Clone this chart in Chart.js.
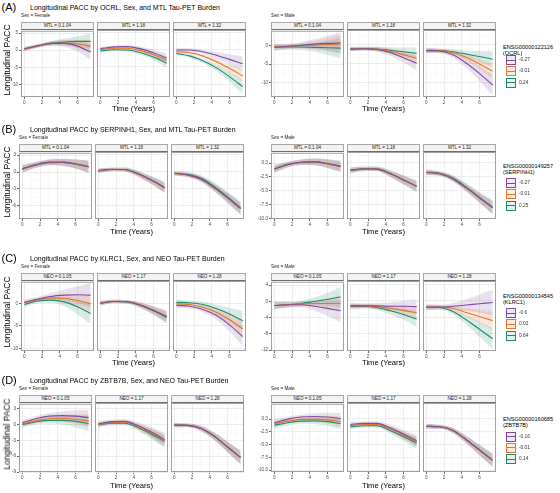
<!DOCTYPE html>
<html>
<head>
<meta charset="utf-8">
<title>Longitudinal PACC</title>
<script src="https://cdn.jsdelivr.net/npm/chart.js@4.4.1/dist/chart.umd.min.js"></script>
<style>
  html, body { margin: 0; padding: 0; background: #fff; }
  #figure { position: relative; width: 560px; height: 493px; overflow: hidden; font-family: "Liberation Sans", Arial, sans-serif; color: #000; }
  #figure canvas { position: absolute; }
  .txt { position: absolute; white-space: nowrap; line-height: 1; }
  .strip { position: absolute; box-sizing: border-box; height: 8px; background: #f3f3f3; border: 1px solid #a8a8a8; border-bottom: 1.5px solid #6e6e6e; font-size: 4.6px; line-height: 6px; text-align: center; color: #222; }
  .key { position: absolute; box-sizing: border-box; width: 10px; height: 10px; border: 1px solid; }
  .key i { position: absolute; left: 0; right: 0; top: 3.5px; height: 1px; }
</style>
</head>
<body>
<div id="figure"></div>
<script>
// time points (years)
const years = [0, 1.5, 3, 4.5, 6, 7.5];

const rowLetters = ["(A)", "(B)", "(C)", "(D)"];
const rowTitles = [
  "Longitudinal PACC by OCRL, Sex, and MTL Tau-PET Burden",
  "Longitudinal PACC by SERPINH1, Sex, and MTL Tau-PET Burden",
  "Longitudinal PACC by KLRC1, Sex, and NEO Tau-PET Burden",
  "Longitudinal PACC by ZBTB7B, Sex, and NEO Tau-PET Burden"
];
const facetLabels = [
  ["MTL = 0.1.04", "MTL = 1.18", "MTL = 1.32"],
  ["MTL = 0.1.04", "MTL = 1.18", "MTL = 1.32"],
  ["NEO = 0.1.05", "NEO = 1.17", "NEO = 1.28"],
  ["NEO = 0.1.05", "NEO = 1.17", "NEO = 1.28"]
];
const sexLabels = ["Sex = Female", "Sex = Male"];
const geneIds = ["ENSG00000122126", "ENSG00000149257", "ENSG00000134545", "ENSG00000160685"];
const geneSymbols = ["(OCRL)", "(SERPINH1)", "(KLRC1)", "(ZBTB7B)"];
const levelLabels = [
  ["-0.27", "-0.01", "0.24"],
  ["-0.27", "-0.01", "0.25"],
  ["-0.6", "0.02", "0.64"],
  ["-0.16", "-0.01", "0.14"]
];
const lineColors = ["#7e4c9e", "#e6752a", "#1f8a6c"];

// axis ticks and ranges
const femaleTicks = [[-10, -5, 0, 5], [-6, -3, 0, 3], [-10, -5, 0], [-9, -6, -3, 0, 3]];
const maleTicks = [[-10, -5, 0], [-10, -7.5, -5, -2.5, 0], [-12, -8, -4, 0, 4], [-10, -7.5, -5, -2.5, 0]];
const femaleRange = [[-13.7, 5.7], [-8.3, 3.4], [-10.6, 4.9], [-9.0, 3.95]];
const maleRange = [[-13.9, 4.0], [-10.1, 1.85], [-12.2, 4.85], [-10.35, 3.0]];
const maleDecimals = [0, 1, 0, 1];
const xTicks = [0, 1, 2, 3, 4, 5, 6, 7];

// predicted PACC: [facet][level low/mid/high][time]
const ocrlFemale = [
  [[0.4, 1.3, 2.0, 2.0, 1.2, -0.5], [0.3, 1.2, 1.9, 2.1, 1.8, 1.2], [0.3, 1.2, 2.0, 2.4, 2.6, 2.6]],
  [[0.3, 0.8, 0.9, 0.3, -0.9, -2.4], [0.0, 0.4, 0.4, -0.2, -1.4, -3.0], [-0.4, 0.0, -0.1, -0.8, -2.1, -3.9]],
  [[-0.1, -0.1, -0.6, -1.6, -2.8, -4.1], [-0.6, -0.9, -1.8, -3.4, -5.4, -7.6], [-1.1, -1.8, -3.2, -5.2, -7.8, -10.7]]
];
const ocrlFemaleBand = [
  [[0.6, 0.5, 0.6, 1.0, 1.6, 2.4], [0.5, 0.4, 0.5, 0.8, 1.3, 1.9], [0.6, 0.5, 0.6, 1.0, 1.5, 2.2]],
  [[0.5, 0.4, 0.4, 0.6, 0.9, 1.4], [0.4, 0.3, 0.4, 0.5, 0.8, 1.1], [0.5, 0.4, 0.4, 0.6, 0.9, 1.3]],
  [[0.6, 0.5, 0.6, 0.9, 1.4, 2.2], [0.5, 0.4, 0.5, 0.8, 1.2, 1.6], [0.6, 0.5, 0.6, 0.9, 1.4, 2.0]]
];
const ocrlMale = [
  [[-0.5, -0.2, 0.1, 0.4, 0.6, 0.7], [-0.4, -0.2, 0.0, 0.1, 0.3, 0.4], [-0.4, -0.4, -0.4, -0.5, -0.6, -0.7]],
  [[-1.1, -1.0, -1.2, -2.0, -3.4, -4.9], [-1.1, -1.0, -1.1, -1.7, -2.6, -3.6], [-1.1, -1.0, -1.1, -1.4, -1.8, -2.2]],
  [[-1.4, -1.6, -2.6, -4.8, -7.6, -10.7], [-1.5, -1.5, -2.0, -3.3, -5.1, -7.0], [-1.6, -1.5, -1.8, -2.4, -3.1, -3.8]]
];
const ocrlMaleBand = [
  [[0.9, 0.7, 0.8, 1.3, 2.0, 2.9], [0.8, 0.6, 0.7, 1.1, 1.7, 2.4], [0.9, 0.7, 0.8, 1.2, 1.9, 2.7]],
  [[0.6, 0.5, 0.6, 0.9, 1.3, 1.9], [0.5, 0.4, 0.5, 0.7, 1.0, 1.4], [0.6, 0.5, 0.6, 0.8, 1.1, 1.5]],
  [[0.7, 0.6, 0.8, 1.3, 2.0, 2.8], [0.6, 0.5, 0.6, 0.9, 1.4, 1.9], [0.6, 0.5, 0.7, 1.0, 1.5, 2.1]]
];

const serpinFemale = [
  [[0.6, 1.3, 1.75, 1.75, 1.45, 0.95], [0.55, 1.25, 1.7, 1.7, 1.4, 0.9], [0.5, 1.2, 1.65, 1.7, 1.4, 0.9]],
  [[0.15, 0.4, 0.35, -0.4, -1.5, -2.8], [0.1, 0.35, 0.3, -0.5, -1.6, -2.9], [0.1, 0.35, 0.35, -0.4, -1.5, -2.8]],
  [[-0.3, -0.6, -1.3, -2.8, -4.6, -6.5], [-0.35, -0.65, -1.4, -2.85, -4.6, -6.5], [-0.3, -0.5, -1.15, -2.6, -4.4, -6.4]]
];
const serpinFemaleBand = [
  [[0.7, 0.5, 0.5, 0.6, 0.8, 1.1], [0.6, 0.5, 0.5, 0.6, 0.8, 1.0], [0.7, 0.5, 0.5, 0.6, 0.8, 1.1]],
  [[0.4, 0.3, 0.35, 0.5, 0.7, 0.9], [0.35, 0.3, 0.3, 0.45, 0.6, 0.8], [0.4, 0.3, 0.35, 0.5, 0.7, 0.9]],
  [[0.4, 0.4, 0.5, 0.7, 0.9, 1.1], [0.35, 0.35, 0.45, 0.6, 0.8, 1.0], [0.4, 0.4, 0.5, 0.7, 0.9, 1.1]]
];
const serpinMale = [
  [[-1.1, -0.3, 0.15, 0.2, -0.1, -0.6], [-1.1, -0.3, 0.1, 0.2, -0.15, -0.65], [-1.05, -0.25, 0.15, 0.25, -0.1, -0.6]],
  [[-1.4, -1.15, -1.2, -2.05, -3.15, -4.3], [-1.4, -1.15, -1.2, -2.0, -3.1, -4.3], [-1.45, -1.2, -1.15, -1.95, -3.1, -4.25]],
  [[-1.8, -2.05, -2.95, -4.55, -6.35, -8.1], [-1.8, -2.0, -2.9, -4.5, -6.3, -8.1], [-1.75, -1.95, -2.8, -4.4, -6.2, -8.0]]
];
const serpinMaleBand = [
  [[0.7, 0.5, 0.5, 0.6, 0.8, 1.0], [0.6, 0.45, 0.45, 0.55, 0.7, 0.9], [0.7, 0.5, 0.5, 0.6, 0.8, 1.0]],
  [[0.5, 0.4, 0.4, 0.6, 0.8, 1.0], [0.45, 0.35, 0.35, 0.5, 0.7, 0.9], [0.5, 0.4, 0.4, 0.6, 0.8, 1.0]],
  [[0.5, 0.4, 0.5, 0.7, 0.9, 1.2], [0.45, 0.35, 0.45, 0.6, 0.8, 1.1], [0.5, 0.4, 0.5, 0.7, 0.9, 1.2]]
];

const klrcFemale = [
  [[0.3, 1.0, 1.6, 1.9, 2.0, 1.9], [0.2, 0.9, 1.3, 1.2, 0.7, 0.0], [-0.2, 0.6, 0.8, 0.4, -0.7, -2.2]],
  [[0.0, 0.35, 0.3, -0.4, -1.6, -3.0], [0.05, 0.4, 0.35, -0.35, -1.5, -2.9], [0.0, 0.35, 0.25, -0.45, -1.7, -3.2]],
  [[-0.5, -0.7, -1.4, -2.7, -4.8, -7.4], [-0.15, -0.3, -0.9, -2.0, -3.7, -5.7], [0.2, 0.1, -0.3, -1.2, -2.4, -3.9]]
];
const klrcFemaleBand = [
  [[0.6, 0.5, 0.7, 1.2, 1.9, 2.7], [0.5, 0.4, 0.5, 0.8, 1.2, 1.8], [0.6, 0.5, 0.6, 1.0, 1.6, 2.4]],
  [[0.5, 0.4, 0.4, 0.6, 0.9, 1.3], [0.45, 0.35, 0.35, 0.55, 0.8, 1.2], [0.5, 0.4, 0.4, 0.6, 0.9, 1.3]],
  [[0.6, 0.5, 0.6, 0.9, 1.4, 2.1], [0.5, 0.4, 0.5, 0.8, 1.2, 1.8], [0.6, 0.5, 0.6, 0.9, 1.4, 2.1]]
];
const klrcMale = [
  [[-1.0, -0.8, -0.8, -1.2, -1.7, -2.3], [-1.0, -0.8, -0.6, -0.5, -0.5, -0.5], [-1.0, -0.8, -0.5, 0.0, 0.5, 1.1]],
  [[-1.2, -1.2, -1.2, -1.3, -1.3, -1.4], [-1.2, -1.2, -1.4, -1.8, -2.3, -2.9], [-1.3, -1.3, -1.6, -2.4, -3.3, -4.4]],
  [[-1.5, -1.5, -1.3, -1.0, -0.7, -0.4], [-1.5, -1.5, -1.8, -2.8, -3.8, -4.8], [-1.6, -1.6, -2.6, -4.6, -6.9, -9.2]]
];
const klrcMaleBand = [
  [[0.9, 0.7, 0.7, 1.0, 1.8, 2.8], [0.8, 0.6, 0.6, 0.8, 1.3, 2.0], [0.9, 0.7, 0.7, 1.0, 1.6, 2.5]],
  [[0.7, 0.6, 0.7, 1.0, 1.3, 1.7], [0.6, 0.5, 0.6, 0.8, 1.1, 1.5], [0.6, 0.5, 0.6, 0.9, 1.3, 1.9]],
  [[0.7, 0.6, 0.8, 1.4, 2.2, 3.2], [0.6, 0.5, 0.6, 1.0, 1.6, 2.2], [0.6, 0.5, 0.7, 1.1, 1.8, 2.6]]
];

const zbtbFemale = [
  [[0.3, 1.1, 1.6, 1.7, 1.6, 1.3], [0.1, 0.7, 1.1, 1.2, 1.0, 0.7], [0.0, 0.5, 0.8, 0.8, 0.6, 0.2]],
  [[0.05, 0.45, 0.5, -0.3, -1.5, -2.9], [-0.05, 0.3, 0.35, -0.5, -1.7, -3.1], [-0.15, 0.15, 0.15, -0.7, -1.9, -3.3]],
  [[-0.2, -0.25, -0.85, -2.3, -4.3, -6.3], [-0.2, -0.25, -0.8, -2.3, -4.3, -6.3], [-0.2, -0.25, -0.8, -2.25, -4.25, -6.3]]
];
const zbtbFemaleBand = [
  [[0.6, 0.5, 0.6, 0.8, 1.1, 1.5], [0.5, 0.4, 0.5, 0.7, 0.9, 1.3], [0.6, 0.5, 0.6, 0.8, 1.1, 1.5]],
  [[0.5, 0.4, 0.4, 0.6, 0.9, 1.2], [0.45, 0.35, 0.35, 0.55, 0.8, 1.1], [0.5, 0.4, 0.4, 0.6, 0.9, 1.2]],
  [[0.4, 0.35, 0.5, 0.7, 1.0, 1.3], [0.4, 0.35, 0.45, 0.65, 0.9, 1.2], [0.4, 0.35, 0.5, 0.7, 1.0, 1.3]]
];
const zbtbMale = [
  [[-0.7, 0.0, 0.4, 0.5, 0.4, 0.1], [-0.9, -0.4, -0.05, 0.0, -0.15, -0.5], [-1.2, -0.7, -0.4, -0.35, -0.5, -0.9]],
  [[-1.15, -0.95, -0.95, -1.8, -3.0, -4.3], [-1.35, -1.15, -1.15, -2.0, -3.2, -4.5], [-1.6, -1.4, -1.4, -2.3, -3.5, -4.8]],
  [[-1.5, -1.6, -2.3, -4.1, -6.1, -8.1], [-1.5, -1.6, -2.3, -4.1, -6.1, -8.1], [-1.5, -1.6, -2.3, -4.05, -6.05, -8.05]]
];
const zbtbMaleBand = [
  [[0.7, 0.5, 0.5, 0.6, 0.8, 1.1], [0.6, 0.45, 0.45, 0.55, 0.7, 1.0], [0.7, 0.5, 0.5, 0.6, 0.8, 1.1]],
  [[0.5, 0.4, 0.4, 0.6, 0.8, 1.1], [0.45, 0.35, 0.35, 0.55, 0.7, 1.0], [0.5, 0.4, 0.4, 0.6, 0.8, 1.1]],
  [[0.5, 0.4, 0.5, 0.7, 1.0, 1.3], [0.45, 0.35, 0.45, 0.65, 0.9, 1.2], [0.5, 0.4, 0.5, 0.7, 1.0, 1.3]]
];

const femaleMeans = [ocrlFemale, serpinFemale, klrcFemale, zbtbFemale];
const femaleBands = [ocrlFemaleBand, serpinFemaleBand, klrcFemaleBand, zbtbFemaleBand];
const maleMeans = [ocrlMale, serpinMale, klrcMale, zbtbMale];
const maleBands = [ocrlMaleBand, serpinMaleBand, klrcMaleBand, zbtbMaleBand];

// page layout (pixels)
const plotTop = [30, 152, 281, 403];
const plotBottom = [97, 219, 351, 472];
const femaleLeft = [21, 19, 21, 19];
const maleLeft = 271;
const panelW = 73;
const panelStep = 76;
const xTitleGap = [12, 13, 11.5, 13.5];
const legendTitleY = [48, 166.5, 296.5, 420];
const legendKeyY = [60, 183, 313, 436.5];

const fig = document.getElementById("figure");

function addText(str, x, y, size, extra) {
  const d = document.createElement("div");
  d.className = "txt";
  d.textContent = str;
  d.style.left = x + "px";
  d.style.top = y + "px";
  d.style.fontSize = size + "px";
  d.style.transform = "translateY(-50%)";
  if (extra) Object.assign(d.style, extra);
  fig.appendChild(d);
  return d;
}

function rgba(hex, a) {
  const n = parseInt(hex.slice(1), 16);
  return `rgba(${(n >> 16) & 255},${(n >> 8) & 255},${n & 255},${a})`;
}

const frame = {
  id: "frame",
  afterDraw(chart) {
    const { ctx, chartArea: a } = chart;
    ctx.save();
    ctx.strokeStyle = "#a0a0a0";
    ctx.lineWidth = 1;
    ctx.strokeRect(a.left + 0.5, a.top + 0.5, a.right - a.left - 1, a.bottom - a.top - 1);
    ctx.restore();
  }
};

function minorsOf(majors, lo, hi) {
  const step = majors[1] - majors[0];
  const out = [];
  for (let v = majors[0] - step / 2; v <= hi; v += step) if (v >= lo) out.push(v);
  return out;
}

function addPanel(x, top, bottom, means, bands, range, majors, decimals, showY) {
  const yw = showY ? 24 : 0;
  const padT = 3, padR = 3, xh = 10;
  const canvas = document.createElement("canvas");
  canvas.width = yw + panelW + padR;
  canvas.height = padT + (bottom - top) + xh;
  canvas.style.left = (x - yw) + "px";
  canvas.style.top = (top - padT) + "px";
  fig.appendChild(canvas);

  const datasets = [];
  means.forEach((curve, k) => {
    const c = lineColors[k];
    const common = { borderColor: "transparent", pointRadius: 0, cubicInterpolationMode: "monotone", order: 2 };
    datasets.push(Object.assign({ data: years.map((t, i) => ({ x: t, y: curve[i] + bands[k][i] })), fill: false }, common));
    datasets.push(Object.assign({ data: years.map((t, i) => ({ x: t, y: curve[i] - bands[k][i] })), fill: "-1", backgroundColor: rgba(c, 0.17) }, common));
  });
  means.forEach((curve, k) => {
    datasets.push({
      data: years.map((t, i) => ({ x: t, y: curve[i] })),
      borderColor: lineColors[k], borderWidth: 1.1, pointRadius: 0,
      cubicInterpolationMode: "monotone", fill: false, order: 1
    });
  });

  const yGrid = majors.concat(minorsOf(majors, range[0], range[1]));
  const isMajorY = v => majors.some(m => Math.abs(m - v) < 1e-6);

  new Chart(canvas, {
    type: "line",
    data: { datasets },
    options: {
      responsive: false,
      animation: false,
      events: [],
      layout: { autoPadding: false, padding: { top: padT, right: padR, left: 0, bottom: 0 } },
      plugins: { legend: { display: false }, tooltip: { enabled: false } },
      scales: {
        x: {
          type: "linear", min: -0.375, max: 7.875,
          afterBuildTicks: s => { s.ticks = xTicks.map(v => ({ value: v })); },
          afterFit: s => { s.height = xh; },
          border: { display: false },
          grid: {
            color: c => (c.tick && c.tick.value % 2 === 0) ? "#ebebeb" : "#f5f5f5",
            lineWidth: c => (c.tick && c.tick.value % 2 === 0) ? 0.9 : 0.5,
            tickColor: c => (c.tick && c.tick.value % 2 === 0) ? "#555" : "transparent",
            tickLength: 2
          },
          ticks: {
            autoSkip: false, maxRotation: 0, padding: 1,
            font: { size: 4.6, family: "Liberation Sans, Arial" }, color: "#4d4d4d",
            callback: v => (v % 2 === 0 ? String(v) : "")
          }
        },
        y: {
          type: "linear", min: range[0], max: range[1],
          afterBuildTicks: s => { s.ticks = yGrid.map(v => ({ value: v })); },
          afterFit: s => { s.width = yw; },
          border: { display: false },
          grid: {
            color: c => (c.tick && isMajorY(c.tick.value)) ? "#ebebeb" : "#f5f5f5",
            lineWidth: c => (c.tick && isMajorY(c.tick.value)) ? 0.9 : 0.5,
            tickColor: c => (showY && c.tick && isMajorY(c.tick.value)) ? "#555" : "transparent",
            drawTicks: showY,
            tickLength: 2
          },
          ticks: {
            display: showY, autoSkip: false, padding: 1,
            font: { size: 4.6, family: "Liberation Sans, Arial" }, color: "#4d4d4d",
            callback: v => (isMajorY(v) ? v.toFixed(decimals) : "")
          }
        }
      }
    },
    plugins: [frame]
  });
}

function addLegend(r) {
  const x = 503;
  addText(geneIds[r], x, legendTitleY[r], 5.6);
  addText(geneSymbols[r], x, legendTitleY[r] + 6, 5.6);
  levelLabels[r].forEach((lab, k) => {
    const cy = legendKeyY[r] + k * 11.3;
    const key = document.createElement("div");
    key.className = "key";
    key.style.left = (x + 3) + "px";
    key.style.top = (cy - 5) + "px";
    key.style.borderColor = lineColors[k];
    key.style.background = rgba(lineColors[k], 0.12);
    const line = document.createElement("i");
    line.style.background = lineColors[k];
    key.appendChild(line);
    fig.appendChild(key);
    addText(lab, x + 16, cy, 4.8, { color: "#333" });
  });
}

for (let r = 0; r < 4; r++) {
  const top = plotTop[r], bottom = plotBottom[r];
  addText(rowLetters[r], 1.5, top - 23.5, 11);
  addText(rowTitles[r], 30, top - 23.5, 7);

  const groups = [
    { left: femaleLeft[r], means: femaleMeans[r], bands: femaleBands[r], range: femaleRange[r], ticks: femaleTicks[r], dec: 0 },
    { left: maleLeft, means: maleMeans[r], bands: maleBands[r], range: maleRange[r], ticks: maleTicks[r], dec: maleDecimals[r] }
  ];
  groups.forEach((g, s) => {
    addText(sexLabels[s], g.left, top - 14.5, 4.7, { color: "#222" });
    for (let p = 0; p < 3; p++) {
      const px = g.left + p * panelStep;
      const strip = document.createElement("div");
      strip.className = "strip";
      strip.textContent = facetLabels[r][p];
      strip.style.left = px + "px";
      strip.style.top = (top - 8) + "px";
      strip.style.width = panelW + "px";
      fig.appendChild(strip);
      addPanel(px, top, bottom, g.means[p], g.bands[p], g.range, g.ticks, g.dec, p === 0);
    }
    const cx = g.left + (2 * panelStep + panelW) / 2;
    addText("Time (Years)", cx, bottom + xTitleGap[r], 7.6, { transform: "translate(-50%, -50%)" });
  });

  addText("Longitudinal PACC", 6.5, (top - 8 + bottom) / 2, 8.5,
    { transform: "translate(-50%, -50%) rotate(-90deg)" });
  addLegend(r);
}
</script>
</body>
</html>
